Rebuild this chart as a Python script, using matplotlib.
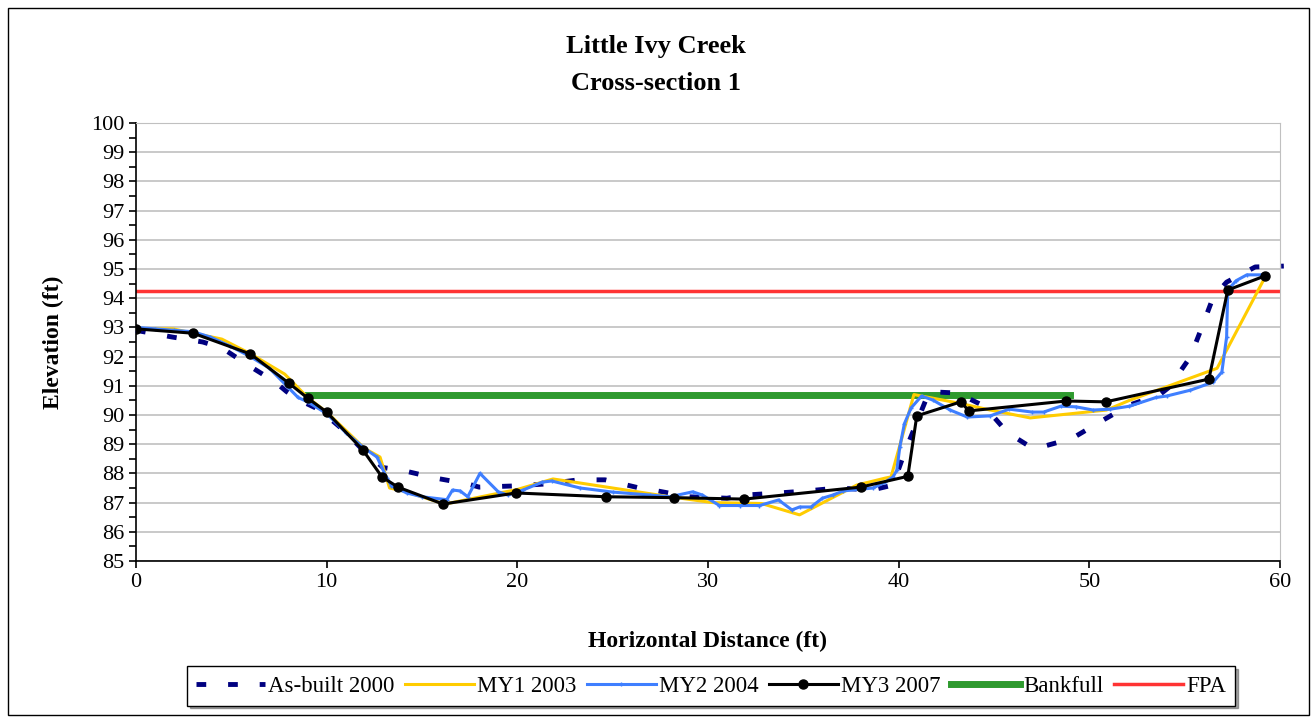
import matplotlib
matplotlib.use("Agg")
import matplotlib.pyplot as plt
from matplotlib.ticker import MultipleLocator

plt.rcParams['font.family'] = ['Liberation Serif', 'DejaVu Serif']

# As-built 2000 survey
asb_x = [0, 1.9, 3.5, 4.5, 5.9, 7.3, 7.9, 8.6, 9.65, 10.85, 11.9, 12.96, 14.0, 15.7,
         17.4, 18.0, 19.8, 21.55, 23.2, 24.6, 26.4, 27.1, 29.0, 31.0, 32.0, 33.7,
         35.2, 36.8, 38.6, 39.7, 40.3, 41.6, 43.1, 44.5, 45.7, 47.0, 47.3, 49.1,
         50.55, 52.1, 53.7, 54.2, 55.3, 55.9, 56.5, 57.2, 58.7, 60.2]
asb_y = [92.9, 92.67, 92.5, 92.3, 91.7, 91.13, 90.8, 90.5, 90.17, 89.5, 88.8, 88.2,
         88.1, 87.84, 87.64, 87.53, 87.57, 87.64, 87.78, 87.78, 87.5, 87.43, 87.2,
         87.15, 87.26, 87.33, 87.4, 87.5, 87.43, 87.6, 88.7, 90.8, 90.75, 90.3,
         89.4, 88.87, 88.87, 89.2, 89.76, 90.34, 90.7, 90.96, 91.99, 93.0, 94.04,
         94.55, 95.07, 95.1]

# MY1 2003
my1_x = [0, 1.94, 4.5, 6.0, 7.8, 9.0, 10.0, 12.0, 12.8, 13.3, 14.0, 16.2, 20.0,
         21.87, 23.3, 28.0, 30.25, 32.8, 34.8, 37.8, 39.3, 39.6, 40.8, 43.2, 44.8,
         46.9, 50.9, 52.1, 56.7, 59.2]
my1_y = [92.95, 92.95, 92.6, 92.1, 91.4, 90.6, 90.1, 88.85, 88.56, 87.5, 87.4,
         86.95, 87.45, 87.81, 87.67, 87.2, 87.0, 86.97, 86.58, 87.6, 87.84, 87.88,
         90.7, 90.4, 90.17, 89.9, 90.17, 90.5, 91.6, 94.7]

# MY2 2004
my2_x = [0, 1, 2, 3, 3.9, 4.93, 6, 7, 7.9, 8.5, 9, 10, 11, 12, 12.64, 13.16, 13.4,
         14.2, 15, 16.3, 16.6, 17.0, 17.4, 18.04, 19.0, 19.5, 20.3, 21.3, 21.8,
         23.3, 25.0, 26.95, 28.0, 29.2, 29.7, 30.6, 31.7, 32.7, 33.7, 34.4, 34.8,
         35.4, 36.0, 36.55, 37.1, 38.65, 39.3, 39.7, 39.9, 40.06, 40.3, 40.65,
         41.2, 41.8, 42.7, 43.6, 44.8, 45.8, 47.0, 47.6, 48.5, 49.3, 50.2, 51.1,
         52.1, 53.5, 54.06, 55.3, 56.5, 56.95, 57.2, 57.26, 57.7, 58.26, 59.0, 59.2]
my2_y = [93.0, 92.95, 92.9, 92.85, 92.67, 92.36, 92.0, 91.6, 91.0, 90.6, 90.45,
         90.05, 89.4, 88.85, 88.56, 87.84, 87.57, 87.33, 87.2, 87.1, 87.43, 87.4,
         87.2, 88.0, 87.37, 87.26, 87.43, 87.7, 87.74, 87.5, 87.36, 87.26, 87.2,
         87.37, 87.26, 86.9, 86.9, 86.9, 87.09, 86.75, 86.85, 86.85, 87.15, 87.26,
         87.4, 87.5, 87.7, 87.88, 88.1, 88.9, 89.7, 90.24, 90.65, 90.51, 90.17,
         89.93, 89.97, 90.2, 90.1, 90.1, 90.3, 90.28, 90.17, 90.2, 90.3, 90.6,
         90.65, 90.85, 91.13, 91.47, 92.67, 94.28, 94.6, 94.8, 94.8, 94.76]

# MY3 2007
my3_x = [0, 3.0, 6.0, 8.0, 9.0, 10.0, 11.9, 12.9, 13.74, 16.1, 19.93, 24.65, 28.2,
         31.9, 38.0, 40.48, 40.95, 43.26, 43.68, 48.8, 50.86, 56.27, 57.26, 59.2]
my3_y = [92.95, 92.8, 92.09, 91.1, 90.58, 90.1, 88.8, 87.88, 87.53, 86.95, 87.33,
         87.2, 87.17, 87.12, 87.53, 87.9, 89.97, 90.45, 90.14, 90.48, 90.45, 91.23,
         94.28, 94.76]

bank_x = [9, 49]
bank_y = [90.7, 90.7]
fpa_x = [0, 60]
fpa_y = [94.25, 94.25]

fig = plt.figure(figsize=(13.12, 7.17), dpi=100)
ax = fig.add_axes([136 / 1312, 1 - 561 / 717, (1280 - 136) / 1312, (561 - 123) / 717])

ax.plot(asb_x, asb_y, color='#000080', lw=3.5, dashes=(2, 4.5), clip_on=False,
        label='As-built 2000', zorder=3)
ax.plot(my1_x, my1_y, color='#FFCC00', lw=2.2, label='MY1 2003', zorder=4)
ax.plot(my2_x, my2_y, color='#3F7FFF', lw=2.2, marker='+', ms=3, mew=1,
        label='MY2 2004', zorder=5)
ax.plot(my3_x, my3_y, color='black', lw=2.2, marker='o', ms=6.5,
        label='MY3 2007', zorder=6)
ax.plot(bank_x, bank_y, color='#2E9A2E', lw=5, label='Bankfull', zorder=2)
ax.plot(fpa_x, fpa_y, color='#FF3333', lw=2.5, label='FPA', zorder=2)

ax.set_xlim(0, 60)
ax.set_ylim(85, 100)
ax.xaxis.set_major_locator(MultipleLocator(10))
ax.yaxis.set_major_locator(MultipleLocator(1))
ax.yaxis.set_minor_locator(MultipleLocator(0.5))
ax.tick_params(axis='both', direction='out', labelsize=16, length=5, width=1.2)
ax.tick_params(axis='y', which='minor', direction='out', length=5, width=1.2)
ax.grid(axis='y', color='#c0c0c0', lw=1.2)
ax.set_axisbelow(True)
for s in ('top', 'right'):
    ax.spines[s].set_color('#c0c0c0')
for s in ('left', 'bottom'):
    ax.spines[s].set_linewidth(1.2)

ax.set_xlabel('Horizontal Distance (ft)', fontsize=17, fontweight='bold', labelpad=28)
ax.set_ylabel('Elevation (ft)', fontsize=17, fontweight='bold', labelpad=19)

fig.text(0.5, 1 - 47 / 717, 'Little Ivy Creek', ha='center', va='center',
         fontsize=19, fontweight='bold')
fig.text(0.5, 1 - 83 / 717, 'Cross-section 1', ha='center', va='center',
         fontsize=19, fontweight='bold')

leg = fig.legend(loc='center', bbox_to_anchor=(711 / 1312, 1 - 686 / 717), ncol=6,
                 fontsize=16.5, frameon=True, fancybox=False, shadow=True,
                 handlelength=3.0, columnspacing=0.45, handletextpad=0.15,
                 borderpad=0.4, borderaxespad=0)
leg.get_frame().set_edgecolor('black')
leg.get_frame().set_linewidth(1)

# outer chart border
fig.patches.append(plt.Rectangle((8 / 1312, 2 / 717), 1301 / 1312, 707 / 717,
                                 transform=fig.transFigure, fill=False,
                                 edgecolor='black', lw=1))

fig.savefig('out.png', dpi=100)
